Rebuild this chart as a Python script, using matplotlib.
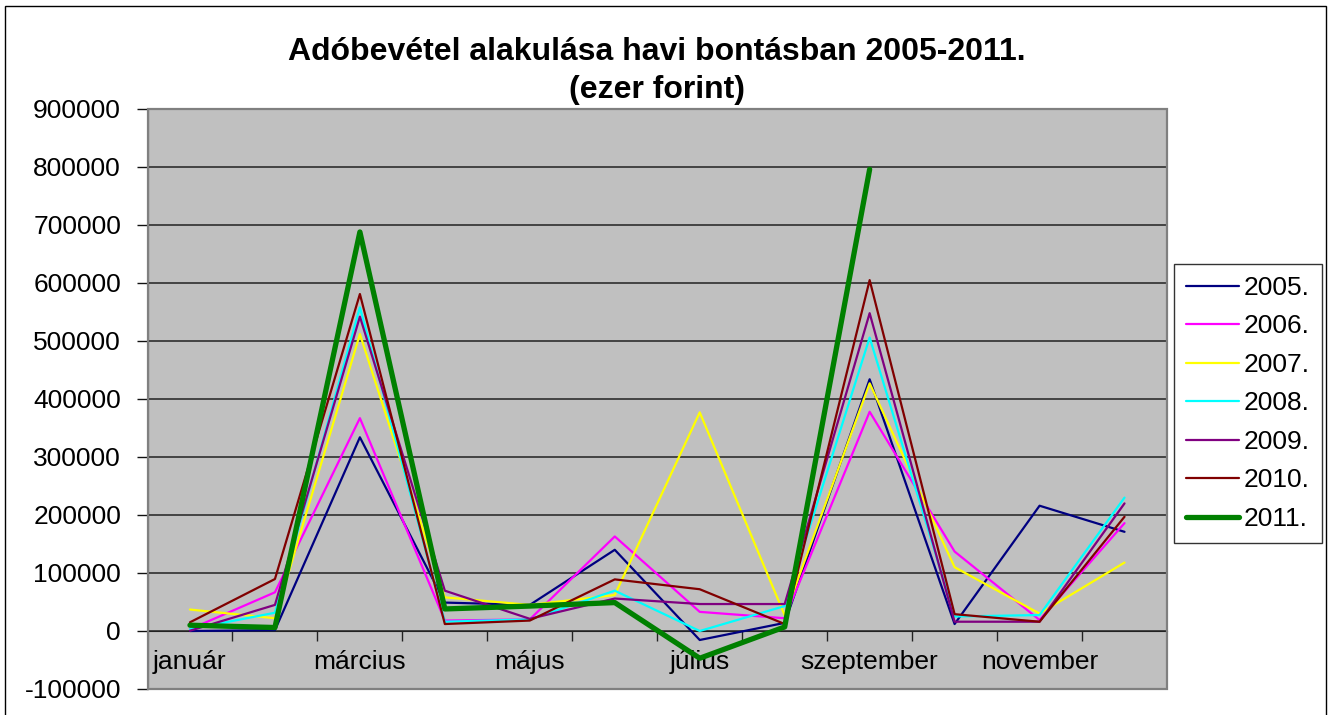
import numpy as np
import matplotlib
matplotlib.use("Agg")
import matplotlib.pyplot as plt
from matplotlib.patches import Rectangle

plt.rcParams["font.family"] = ["Liberation Sans", "DejaVu Sans"]

months = ["január", "február", "március", "április", "május", "június",
          "július", "augusztus", "szeptember", "október", "november", "december"]
years = ["2005.", "2006.", "2007.", "2008.", "2009.", "2010.", "2011."]

v2005 = [0, 1500, 334000, 49000, 45000, 140000, -15500, 14000, 434000, 12000, 216000, 171000]
v2006 = [3000, 66700, 367000, 18000, 20000, 163000, 33000, 22000, 378000, 137000, 19000, 186000]
v2007 = [37000, 22000, 512000, 58000, 45000, 62000, 377000, 27000, 427000, 110000, 30000, 118000]
v2008 = [3000, 31500, 558000, 16000, 20000, 69500, 0, 43000, 506000, 25000, 27500, 230000]
v2009 = [500, 45000, 542000, 69500, 21000, 56000, 46500, 46500, 548000, 16000, 16000, 220000]
v2010 = [15000, 89600, 581000, 12000, 18000, 89000, 72000, 12000, 605000, 29000, 16000, 197000]
v2011 = [10000, 6000, 688000, 38000, 43000, 49000, -47000, 7000, 796000,
         np.nan, np.nan, np.nan]

series = [v2005, v2006, v2007, v2008, v2009, v2010, v2011]
colors = ["#000080", "#FF00FF", "#FFFF00", "#00FFFF", "#800080", "#800000", "#008000"]
widths = [1.6, 1.6, 1.6, 1.6, 1.6, 1.6, 3.8]

yticks = np.arange(-100000, 900001, 100000)
fs = 19

fig = plt.figure(figsize=(13.3, 7.15), dpi=100)
ax = fig.add_axes([147.5 / 1330, 1 - 689 / 715, (1167 - 147.5) / 1330, (689 - 109) / 715])
ax.set_facecolor("#C0C0C0")

x = np.arange(len(months))
for vals, lab, col, lw in zip(series, years, colors, widths):
    ax.plot(x, vals, color=col, linewidth=lw, label=lab,
            solid_joinstyle="round", solid_capstyle="round", zorder=3)

ax.set_xlim(-0.5, len(months) - 0.5)
ax.set_ylim(-100000, 900000)
ax.set_yticks(yticks)
ax.set_yticklabels([str(v) for v in yticks])
ax.yaxis.grid(True, color="#222222", linewidth=1.1)
ax.set_axisbelow(True)

# x axis crosses at zero, labels on every other month
ax.spines["bottom"].set_position(("data", 0))
ax.spines["bottom"].set_color("#222222")
ax.spines["top"].set_visible(False)
ax.spines["right"].set_visible(False)
ax.spines["left"].set_color("#111111")
ax.set_xticks(x[::2])
ax.set_xticklabels(months[::2])
ax.set_xticks(np.arange(-0.5, len(months), 1)[1:-1], minor=True)
ax.tick_params(axis="x", which="major", length=0, pad=14, labelsize=fs)
ax.tick_params(axis="x", which="minor", length=7, width=1, color="#222222", direction="out")
ax.tick_params(axis="y", length=8, width=1, pad=11, labelsize=fs, color="#111111")

ax.add_patch(Rectangle((0, 0), 1, 1, transform=ax.transAxes, fill=False,
                       edgecolor="#808080", linewidth=1.6, clip_on=False, zorder=4))

fig.text(657 / 1330, 1 - 52 / 715, "Adóbevétel alakulása havi bontásban 2005-2011.",
         ha="center", va="center", fontsize=23, fontweight="bold")
fig.text(657 / 1330, 1 - 90 / 715, "(ezer forint)",
         ha="center", va="center", fontsize=23, fontweight="bold")

leg = ax.legend(loc="upper left", bbox_to_anchor=(1174 / 1330, 1 - 264 / 715),
                bbox_transform=fig.transFigure, fontsize=fs, frameon=True,
                fancybox=False, edgecolor="#000000", handlelength=2.0,
                handletextpad=0.2, labelspacing=0.55, borderpad=0.45,
                borderaxespad=0)
leg.get_frame().set_linewidth(1.0)

fig.add_artist(Rectangle((5 / 1330, -0.02), 1321 / 1330, 1 - 6 / 715 + 0.02,
                         transform=fig.transFigure, fill=False,
                         edgecolor="#000000", linewidth=1.0))

fig.savefig("out.png", dpi=100)
